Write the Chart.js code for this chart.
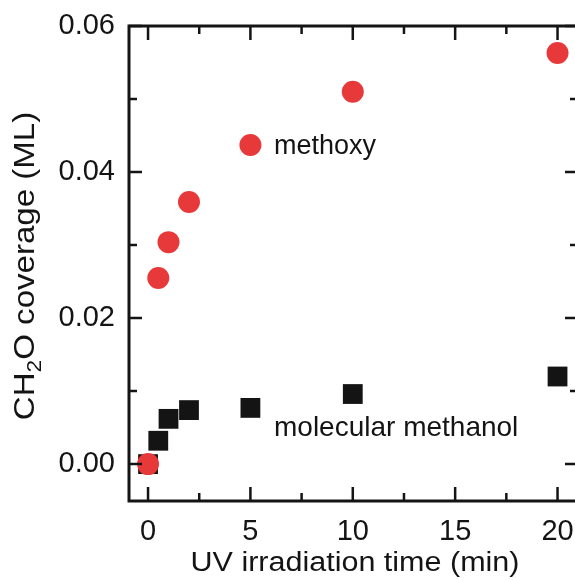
<!DOCTYPE html>
<html>
<head>
<meta charset="utf-8">
<script src="https://cdn.jsdelivr.net/npm/chart.js@4.4.0/dist/chart.umd.min.js"></script>
<style>
  html, body { margin: 0; padding: 0; background: #fff; overflow: hidden; }
  #wrap { position: absolute; left: 0; top: 0; width: 578px; height: 580px; }
</style>
</head>
<body>
<div id="wrap"><canvas id="cov" width="578" height="580"></canvas></div>
<script>
// irradiation times (min)
const times = [0, 0.5, 1, 2, 5, 10, 20];
// CH2O coverage (ML)
const methoxy = [0.0, 0.0255, 0.0304, 0.0359, 0.0437, 0.0510, 0.0563];
const methanol = [0.0, 0.0032, 0.0062, 0.0074, 0.0077, 0.0096, 0.0120];

const xMajor = [0, 5, 10, 15, 20];
const xMinor = [2.5, 7.5, 12.5, 17.5];
const yMajor = [0.00, 0.02, 0.04, 0.06];
const yMinor = [0.01, 0.03, 0.05];

const ink = '#141414';
const red = '#e8393a';
const fontFam = '"Liberation Sans", Arial, sans-serif';

const toPts = (ys) => times.map((t, i) => ({ x: t, y: ys[i] }));

// text drawn wider than the font's natural width
function wideText(ctx, parts, cx, cy, stretch) {
    let total = 0;
    parts.forEach(p => { ctx.font = p.f; total += ctx.measureText(p.t).width; });
    ctx.save();
    ctx.translate(cx, cy);
    ctx.scale(stretch, 1);
    let x = -total / 2;
    ctx.textAlign = 'left';
    parts.forEach(p => {
        ctx.font = p.f;
        ctx.fillText(p.t, x, p.dy || 0);
        x += ctx.measureText(p.t).width;
    });
    ctx.restore();
}

// frame, inward ticks on all sides, labels and axis titles
const framePlugin = {
    id: 'frame',
    afterDraw(chart) {
        const ctx = chart.ctx;
        const a = chart.chartArea;
        const xs = chart.scales.x, ys = chart.scales.y;
        ctx.save();
        ctx.strokeStyle = ink;
        ctx.lineWidth = 3;
        ctx.strokeRect(a.left, a.top, a.right - a.left, a.bottom - a.top);

        ctx.lineWidth = 2.5;
        const tickX = (v, len) => {
            const px = xs.getPixelForValue(v);
            ctx.beginPath();
            ctx.moveTo(px, a.bottom); ctx.lineTo(px, a.bottom - len);
            ctx.moveTo(px, a.top); ctx.lineTo(px, a.top + len);
            ctx.stroke();
        };
        const tickY = (v, len) => {
            const py = ys.getPixelForValue(v);
            ctx.beginPath();
            ctx.moveTo(a.left, py); ctx.lineTo(a.left + len, py);
            ctx.moveTo(a.right, py); ctx.lineTo(a.right - len, py);
            ctx.stroke();
        };
        xMajor.forEach(v => tickX(v, 14));
        xMinor.forEach(v => tickX(v, 8));
        yMajor.forEach(v => tickY(v, 13));
        yMinor.forEach(v => tickY(v, 8));

        // series labels
        ctx.fillStyle = ink;
        ctx.textBaseline = 'alphabetic';
        ctx.textAlign = 'left';
        ctx.font = '27px ' + fontFam;
        ctx.fillText('methoxy', 274, 154);
        ctx.font = '28px ' + fontFam;
        ctx.fillText('molecular methanol', 274, 436);

        // x title
        wideText(ctx, [{ t: 'UV irradiation time (min)', f: '27px ' + fontFam }], 355, 571, 1.13);

        // y title with subscript
        ctx.save();
        ctx.translate(34, 266);
        ctx.rotate(-Math.PI / 2);
        wideText(ctx, [
            { t: 'CH', f: '29px ' + fontFam },
            { t: '2', f: '20px ' + fontFam, dy: 7 },
            { t: 'O coverage (ML)', f: '29px ' + fontFam }
        ], 0, 0, 1.14);
        ctx.restore();
        ctx.restore();
    }
};

new Chart(document.getElementById('cov'), {
    type: 'scatter',
    data: {
        datasets: [
            {
                label: 'methoxy',
                data: toPts(methoxy),
                pointStyle: 'circle',
                pointRadius: 11,
                pointHoverRadius: 11,
                backgroundColor: red,
                borderColor: red,
                borderWidth: 0
            },
            {
                label: 'molecular methanol',
                data: toPts(methanol),
                pointStyle: 'rect',
                pointRadius: 14,
                pointHoverRadius: 14,
                backgroundColor: ink,
                borderColor: ink,
                borderWidth: 0
            }
        ]
    },
    options: {
        responsive: false,
        animation: false,
        events: [],
        layout: { autoPadding: false, padding: { top: 26, right: 0, left: 0, bottom: 0 } },
        plugins: {
            legend: { display: false },
            tooltip: { enabled: false }
        },
        scales: {
            x: {
                type: 'linear',
                min: -0.93,
                max: 21,
                grid: { display: false, drawTicks: false },
                border: { display: false },
                afterBuildTicks: (s) => { s.ticks = xMajor.map(v => ({ value: v })); },
                afterFit: (s) => { s.height = 79; s.paddingLeft = 0; s.paddingRight = 0; },
                ticks: {
                    padding: 14,
                    color: ink,
                    font: { family: fontFam, size: 29 },
                    callback: (v) => String(v)
                }
            },
            y: {
                type: 'linear',
                min: -0.00505,
                max: 0.06,
                grid: { display: false, drawTicks: false },
                border: { display: false },
                afterBuildTicks: (s) => { s.ticks = yMajor.map(v => ({ value: v })); },
                afterFit: (s) => { s.width = 129; s.paddingTop = 0; s.paddingBottom = 0; },
                ticks: {
                    padding: 14,
                    color: ink,
                    font: { family: fontFam, size: 29 },
                    callback: (v) => v.toFixed(2)
                }
            }
        }
    },
    plugins: [framePlugin]
});
</script>
</body>
</html>
